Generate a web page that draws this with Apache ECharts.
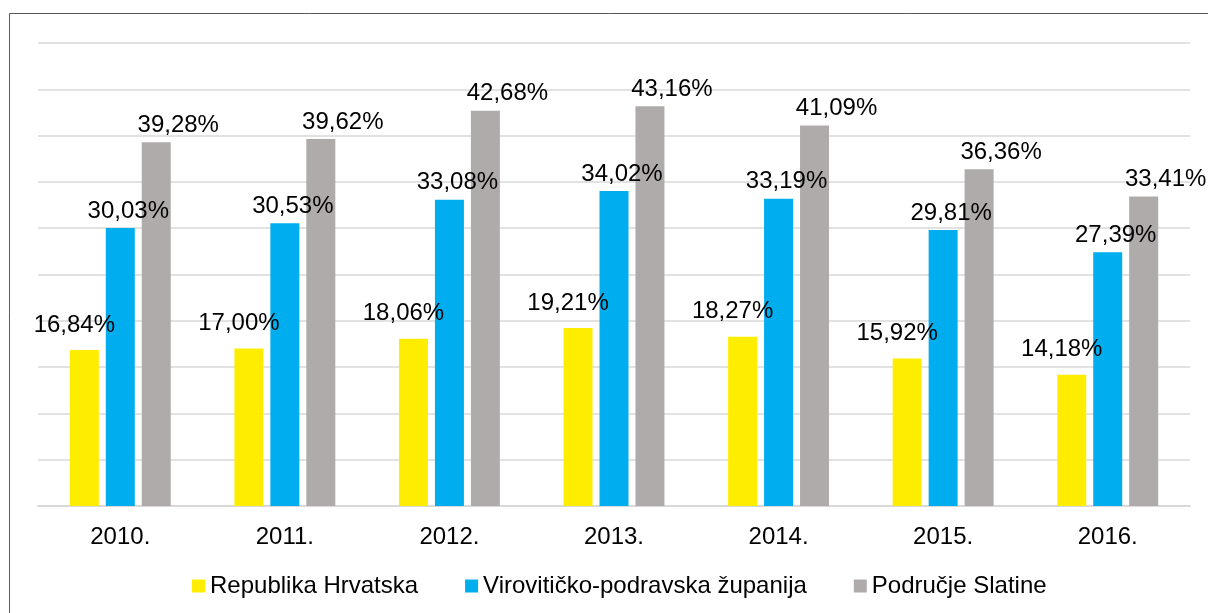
<!DOCTYPE html>
<html>
<head>
<meta charset="utf-8">
<script src="https://cdn.jsdelivr.net/npm/echarts@6/dist/echarts.min.js"></script>
<style>
  html, body { margin: 0; padding: 0; background: #fff; }
  #myChart { width: 1208px; height: 613px; }
</style>
</head>
<body>
<div id="myChart"></div>
<script>
// podaci
const years = ['2010.', '2011.', '2012.', '2013.', '2014.', '2015.', '2016.'];
const hrvatska = [16.84, 17.00, 18.06, 19.21, 18.27, 15.92, 14.18];
const zupanija = [30.03, 30.53, 33.08, 34.02, 33.19, 29.81, 27.39];
const slatina = [39.28, 39.62, 42.68, 43.16, 41.09, 36.36, 33.41];
const seriesNames = ['Republika Hrvatska', 'Virovitičko-podravska županija', 'Područje Slatine'];

const font = 'Liberation Sans, Arial, sans-serif';
const fmt = p => p.value.toFixed(2).replace('.', ',') + '%';

function bar(name, data, color, offset) {
  return {
    name: name,
    type: 'bar',
    data: data,
    barWidth: 29,
    barGap: '24%',
    itemStyle: { color: color },
    label: {
      show: true,
      position: 'top',
      distance: 5,
      offset: offset,
      formatter: fmt,
      color: '#000',
      fontFamily: font,
      fontSize: 24
    }
  };
}

let myChart = echarts.init(document.getElementById('myChart'));
myChart.setOption({
  animation: false,
  graphic: [{
    type: 'rect',
    shape: { x: 9.5, y: 13.5, width: 1220, height: 640 },
    style: { fill: 'none', stroke: '#595959', lineWidth: 1 }
  }],
  grid: { left: 38, right: 18, top: 43, bottom: 107 },
  legend: {
    data: seriesNames,
    bottom: 10,
    left: 187,
    icon: 'rect',
    itemWidth: 13,
    itemHeight: 13,
    itemGap: 47,
    textStyle: { fontFamily: font, fontSize: 24, color: '#000' }
  },
  xAxis: {
    type: 'category',
    data: years,
    axisLine: { lineStyle: { color: '#d9d9d9', width: 2 } },
    axisTick: { show: false },
    axisLabel: { fontFamily: font, fontSize: 24, color: '#000', margin: 19 }
  },
  yAxis: {
    type: 'value',
    min: 0,
    max: 50,
    interval: 5,
    axisLabel: { show: false },
    axisLine: { show: false },
    axisTick: { show: false },
    splitLine: { lineStyle: { color: '#d9d9d9', width: 1.5 } }
  },
  series: [
    bar(seriesNames[0], hrvatska, '#FFED00', [-10, -8]),
    bar(seriesNames[1], zupanija, '#00AEEF', [8, 0]),
    bar(seriesNames[2], slatina, '#AFABAB', [22, 0])
  ]
});
window.onresize = function () {
  myChart.resize();
};
</script>
</body>
</html>
